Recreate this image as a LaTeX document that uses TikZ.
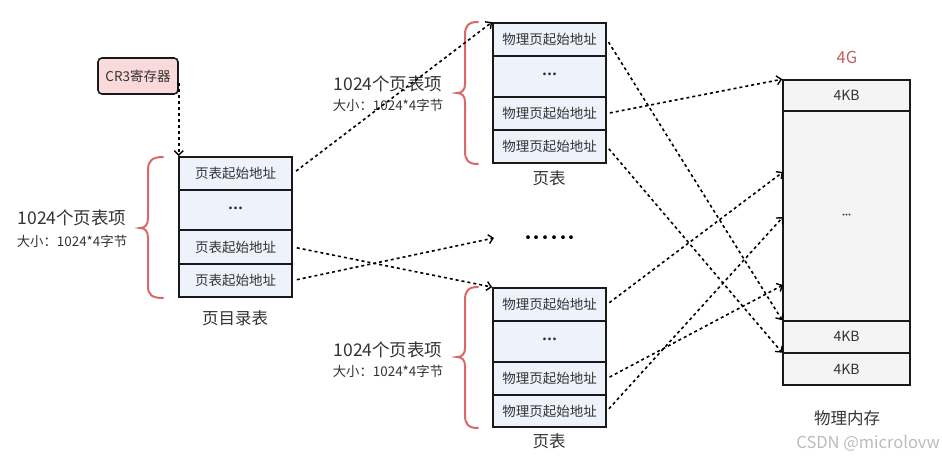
\documentclass[tikz,border=0pt]{standalone}
\usepackage{fontspec}
\setmainfont{Noto Sans CJK SC}
\usetikzlibrary{arrows.meta}
\definecolor{cellfill}{HTML}{EEF2FB}
\definecolor{memfill}{HTML}{F4F4F4}
\definecolor{crfill}{HTML}{F9D9D9}
\definecolor{bracered}{HTML}{D9686A}
\definecolor{txt}{HTML}{333333}
\definecolor{wm}{HTML}{BBBBBB}
\tikzset{
  cell/.style={draw=black!90, line width=1.8pt, fill=cellfill, minimum width=113pt, inner sep=0pt,
    text=txt, font=\fontsize{13.5}{15}\selectfont},
  memcell/.style={draw=black!90, line width=1.6pt, fill=memfill, minimum width=127pt, inner sep=0pt,
    text=txt, font=\fontsize{14}{15}\selectfont},
  crbox/.style={draw=black!90, line width=1.6pt, fill=crfill, rounded corners=4pt, minimum width=80pt,
    minimum height=36pt, inner sep=0pt, text=txt, font=\fontsize{13.5}{15}\selectfont},
  arr/.style={line width=1.6pt, dash pattern=on 3pt off 3pt, -{Straight Barb[length=4.5pt,width=9pt,line width=1.4pt]}},
  bracestyle/.style={draw=bracered, line width=2pt, line cap=round},
  title/.style={text=txt, font=\fontsize{17.5}{19}\selectfont, inner sep=0pt},
  sub/.style={text=txt, font=\fontsize{13.4}{15}\selectfont, inner sep=0pt},
  caption/.style={text=txt, font=\fontsize{16.5}{18}\selectfont, inner sep=0pt},
}
\newcommand{\celldots}{·\kern-8.5pt·\kern-8.5pt·}
\begin{document}
\begin{tikzpicture}[x=1pt,y=-1pt]
\useasboundingbox (0,0) rectangle (942,460);

% CR3
\node[crbox] (cr3) at (138,76) {CR3寄存器};

% page directory
\node[cell, minimum height=33pt] (pd1) at (235.5,173.5) {页表起始地址};
\node[cell, minimum height=40pt] (pd2) at (235.5,210) {\celldots};
\node[cell, minimum height=34pt] (pd3) at (235.5,247) {页表起始地址};
\node[cell, minimum height=33pt] (pd4) at (235.5,280.5) {页表起始地址};
\node[caption] (pdlab) at (235,318) {页目录表};

% top page table
\node[cell, minimum height=33pt] (ta1) at (549.5,39.5) {物理页起始地址};
\node[cell, minimum height=41pt] (ta2) at (549.5,76.5) {\celldots};
\node[cell, minimum height=33pt] (ta3) at (549.5,113.5) {物理页起始地址};
\node[cell, minimum height=33pt] (ta4) at (549.5,146.5) {物理页起始地址};
\node[caption] (talab) at (549,178) {页表};

% bottom page table
\node[cell, minimum height=33pt] (tb1) at (549.5,304.5) {物理页起始地址};
\node[cell, minimum height=41pt] (tb2) at (549.5,341.5) {\celldots};
\node[cell, minimum height=33pt] (tb3) at (549.5,378.5) {物理页起始地址};
\node[cell, minimum height=32pt] (tb4) at (549.5,411) {物理页起始地址};
\node[caption] (tblab) at (549,441) {页表};

% middle dots
\node[text=black, font=\fontsize{18}{18}\selectfont, inner sep=0pt] (dots) at (550,240)
  {·\kern-9.3pt·\kern-9.3pt·\kern-9.3pt·\kern-9.3pt·\kern-9.3pt·};
\coordinate (midend) at (494,238);

% physical memory
\node[memcell, minimum height=31pt] (m1) at (846.5,95.5) {4KB};
\node[memcell, minimum height=210pt, font=\fontsize{9}{10}\selectfont] (m2) at (846.5,216) {·\kern-6pt·\kern-6pt·};
\node[memcell, minimum height=31.5pt] (m3) at (846.5,336.75) {4KB};
\node[memcell, minimum height=31.5pt] (m4) at (846.5,369.25) {4KB};
\node[text=bracered!90!black, font=\fontsize{16.5}{17}\selectfont, inner sep=0pt] (g4) at (847,57) {4G};
\node[caption] (memlab) at (847,418) {物理内存};
\coordinate (m2a) at (783,172);
\coordinate (m2b) at (783,217);
\coordinate (m2c) at (783,285);

% braces
\draw[bracestyle] (163,157) .. controls (152,157) and (148,161) .. (148,170) -- (148,218)
  .. controls (148,225) and (145,228) .. (140,228) .. controls (145,228) and (148,231) .. (148,238)
  -- (148,286) .. controls (148,295) and (152,298) .. (163,298);
\draw[bracestyle] (478,22) .. controls (468,22) and (465,26) .. (465,35) -- (465,84)
  .. controls (465,90) and (462,93) .. (457,93) .. controls (462,93) and (465,96) .. (465,102)
  -- (465,151) .. controls (465,160) and (468,164) .. (478,164);
\draw[bracestyle] (478,287) .. controls (468,287) and (465,291) .. (465,300) -- (465,348)
  .. controls (465,354) and (462,357) .. (457,357) .. controls (462,357) and (465,360) .. (465,366)
  -- (465,415) .. controls (465,424) and (468,428) .. (478,428);

% brace labels
\node[title] (l1a) at (72,218) {1024个页表项};
\node[sub] (l1b) at (72,241) {大小：1024*4字节};
\node[title] (l2a) at (388,84) {1024个页表项};
\node[sub] (l2b) at (388,105) {大小：1024*4字节};
\node[title] (l3a) at (388,350) {1024个页表项};
\node[sub] (l3b) at (388,371) {大小：1024*4字节};

% connectors
\draw[arr] ([yshift=-7pt]cr3.east) -- (cr3.east |- pd1.north);
\draw[arr, shorten <=4pt] (pd1.east) -- (ta1.north west);
\draw[arr, shorten <=4pt] (pd3.east) -- (tb1.north west);
\draw[arr, shorten <=4pt] (pd4.east) -- (midend);
\draw[arr, shorten <=3pt] (ta1.east) -- (m3.north west);
\draw[arr, shorten <=3pt] (ta3.east) -- (m1.north west);
\draw[arr, shorten <=3pt] (ta4.east) -- (m4.north west);
\draw[arr, shorten <=3pt] (tb1.east) -- (m2a);
\draw[arr, shorten <=3pt] (tb3.east) -- (m2c);
\draw[arr, shorten <=3pt] (tb4.east) -- (m2b);

% watermark
\node[text=wm, font=\fontsize{16.5}{17}\selectfont, inner sep=0pt, anchor=east] (wmark) at (940,443) {CSDN @microlovw};
\end{tikzpicture}
\end{document}
